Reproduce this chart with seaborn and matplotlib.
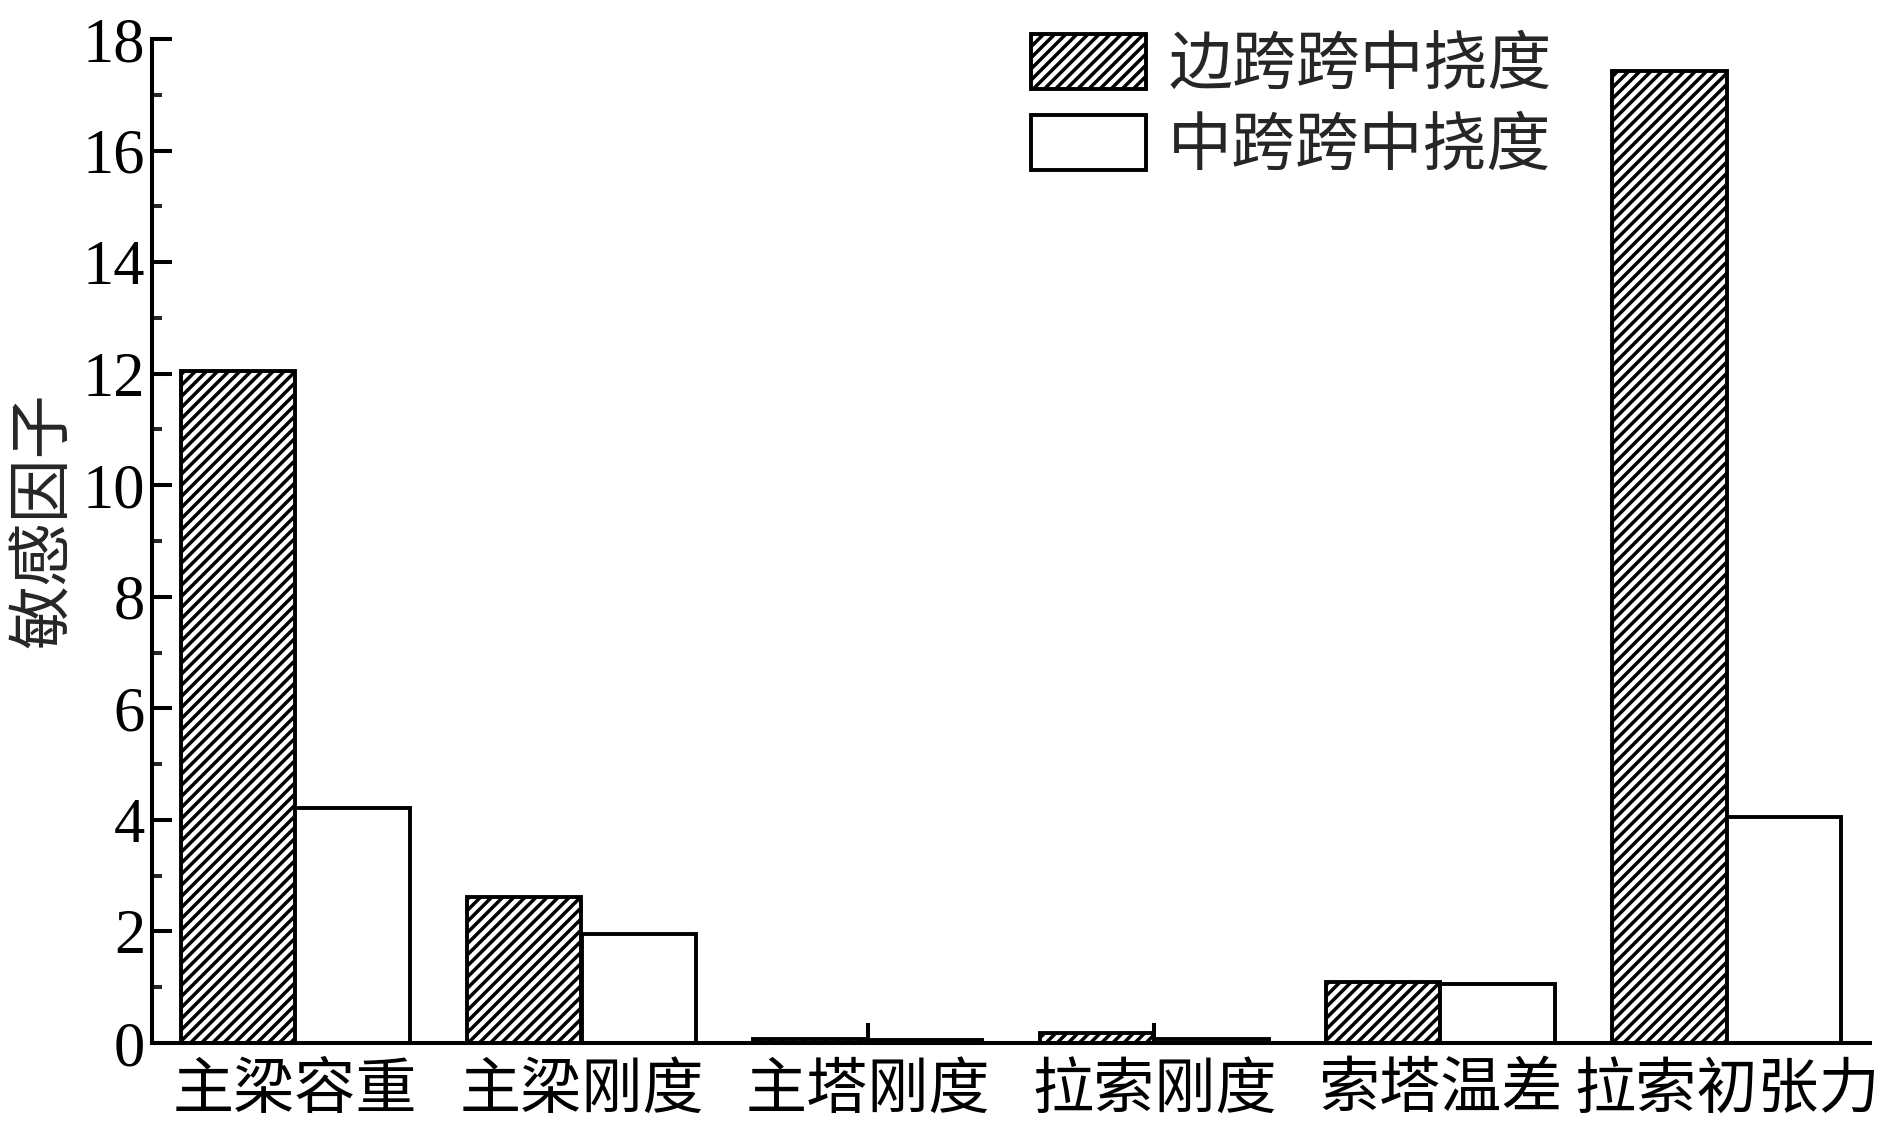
import matplotlib
matplotlib.use("Agg")
import matplotlib.pyplot as plt
import matplotlib.patches as mpatches
import pandas as pd
import seaborn as sns
from matplotlib.ticker import MultipleLocator

# values
categories = ["主梁容重", "主梁刚度", "主塔刚度", "拉索刚度", "索塔温差", "拉索初张力"]
side_span = [12.05, 2.61, 0.08, 0.18, 1.09, 17.43]
mid_span = [4.21, 1.95, 0.05, 0.08, 1.06, 4.06]
series = ["边跨跨中挠度", "中跨跨中挠度"]

sns.set_style("ticks")
plt.rcParams["font.family"] = ["Liberation Serif", "Noto Sans CJK SC"]
plt.rcParams["hatch.linewidth"] = 2.5
plt.rcParams["hatch.color"] = "black"

df = pd.DataFrame({
    "参数": categories * 2,
    "敏感因子": side_span + mid_span,
    "工况": [series[0]] * len(categories) + [series[1]] * len(categories),
})

W, H = 1895, 1124
fig = plt.figure(figsize=(W / 100, H / 100), dpi=100)
ax = fig.add_axes([152 / W, 1 - 1043 / H, (1870 - 152) / W, (1043 - 39) / H])

sns.barplot(
    data=df, x="参数", y="敏感因子", hue="工况",
    palette=["white", "white"], saturation=1,
    edgecolor="black", linewidth=2.8, width=0.8,
    legend=False, ax=ax,
)
for bar in ax.containers[0]:
    bar.set_hatch("///")

ax.set_ylim(0, 18)
ax.set_xlim(-0.5, len(categories) - 0.5)
ax.yaxis.set_major_locator(MultipleLocator(2))
ax.yaxis.set_minor_locator(MultipleLocator(1))
ax.tick_params(axis="both", which="major", direction="in", length=14.4, width=2.9,
               color="black", labelcolor="black")
ax.tick_params(axis="y", which="minor", direction="in", length=7.2, width=2.9)
ax.tick_params(axis="y", labelsize=45, pad=5)
ax.tick_params(axis="x", labelsize=44, pad=15)
ax.set_xlabel("")
ax.set_ylabel("")
sns.despine(ax=ax)
for side in ["left", "bottom"]:
    ax.spines[side].set_linewidth(2.9)
    ax.spines[side].set_color("black")

fig.text(46 / W, 1 - 520 / H, "敏感因子", rotation=90, ha="center", va="center", fontsize=46)

handles = [
    mpatches.Patch(facecolor="white", edgecolor="black", hatch="///", linewidth=2.8),
    mpatches.Patch(facecolor="white", edgecolor="black", linewidth=2.8),
]
ax.legend(
    handles, series, loc="upper left",
    bbox_to_anchor=(1031 / W, 1 - 34 / H), bbox_transform=fig.transFigure,
    frameon=False, fontsize=46, borderpad=0, borderaxespad=0,
    handlelength=1.8, handleheight=0.95, handletextpad=0.35, labelspacing=0.27,
)

fig.savefig("out.png", dpi=100, facecolor="white")
